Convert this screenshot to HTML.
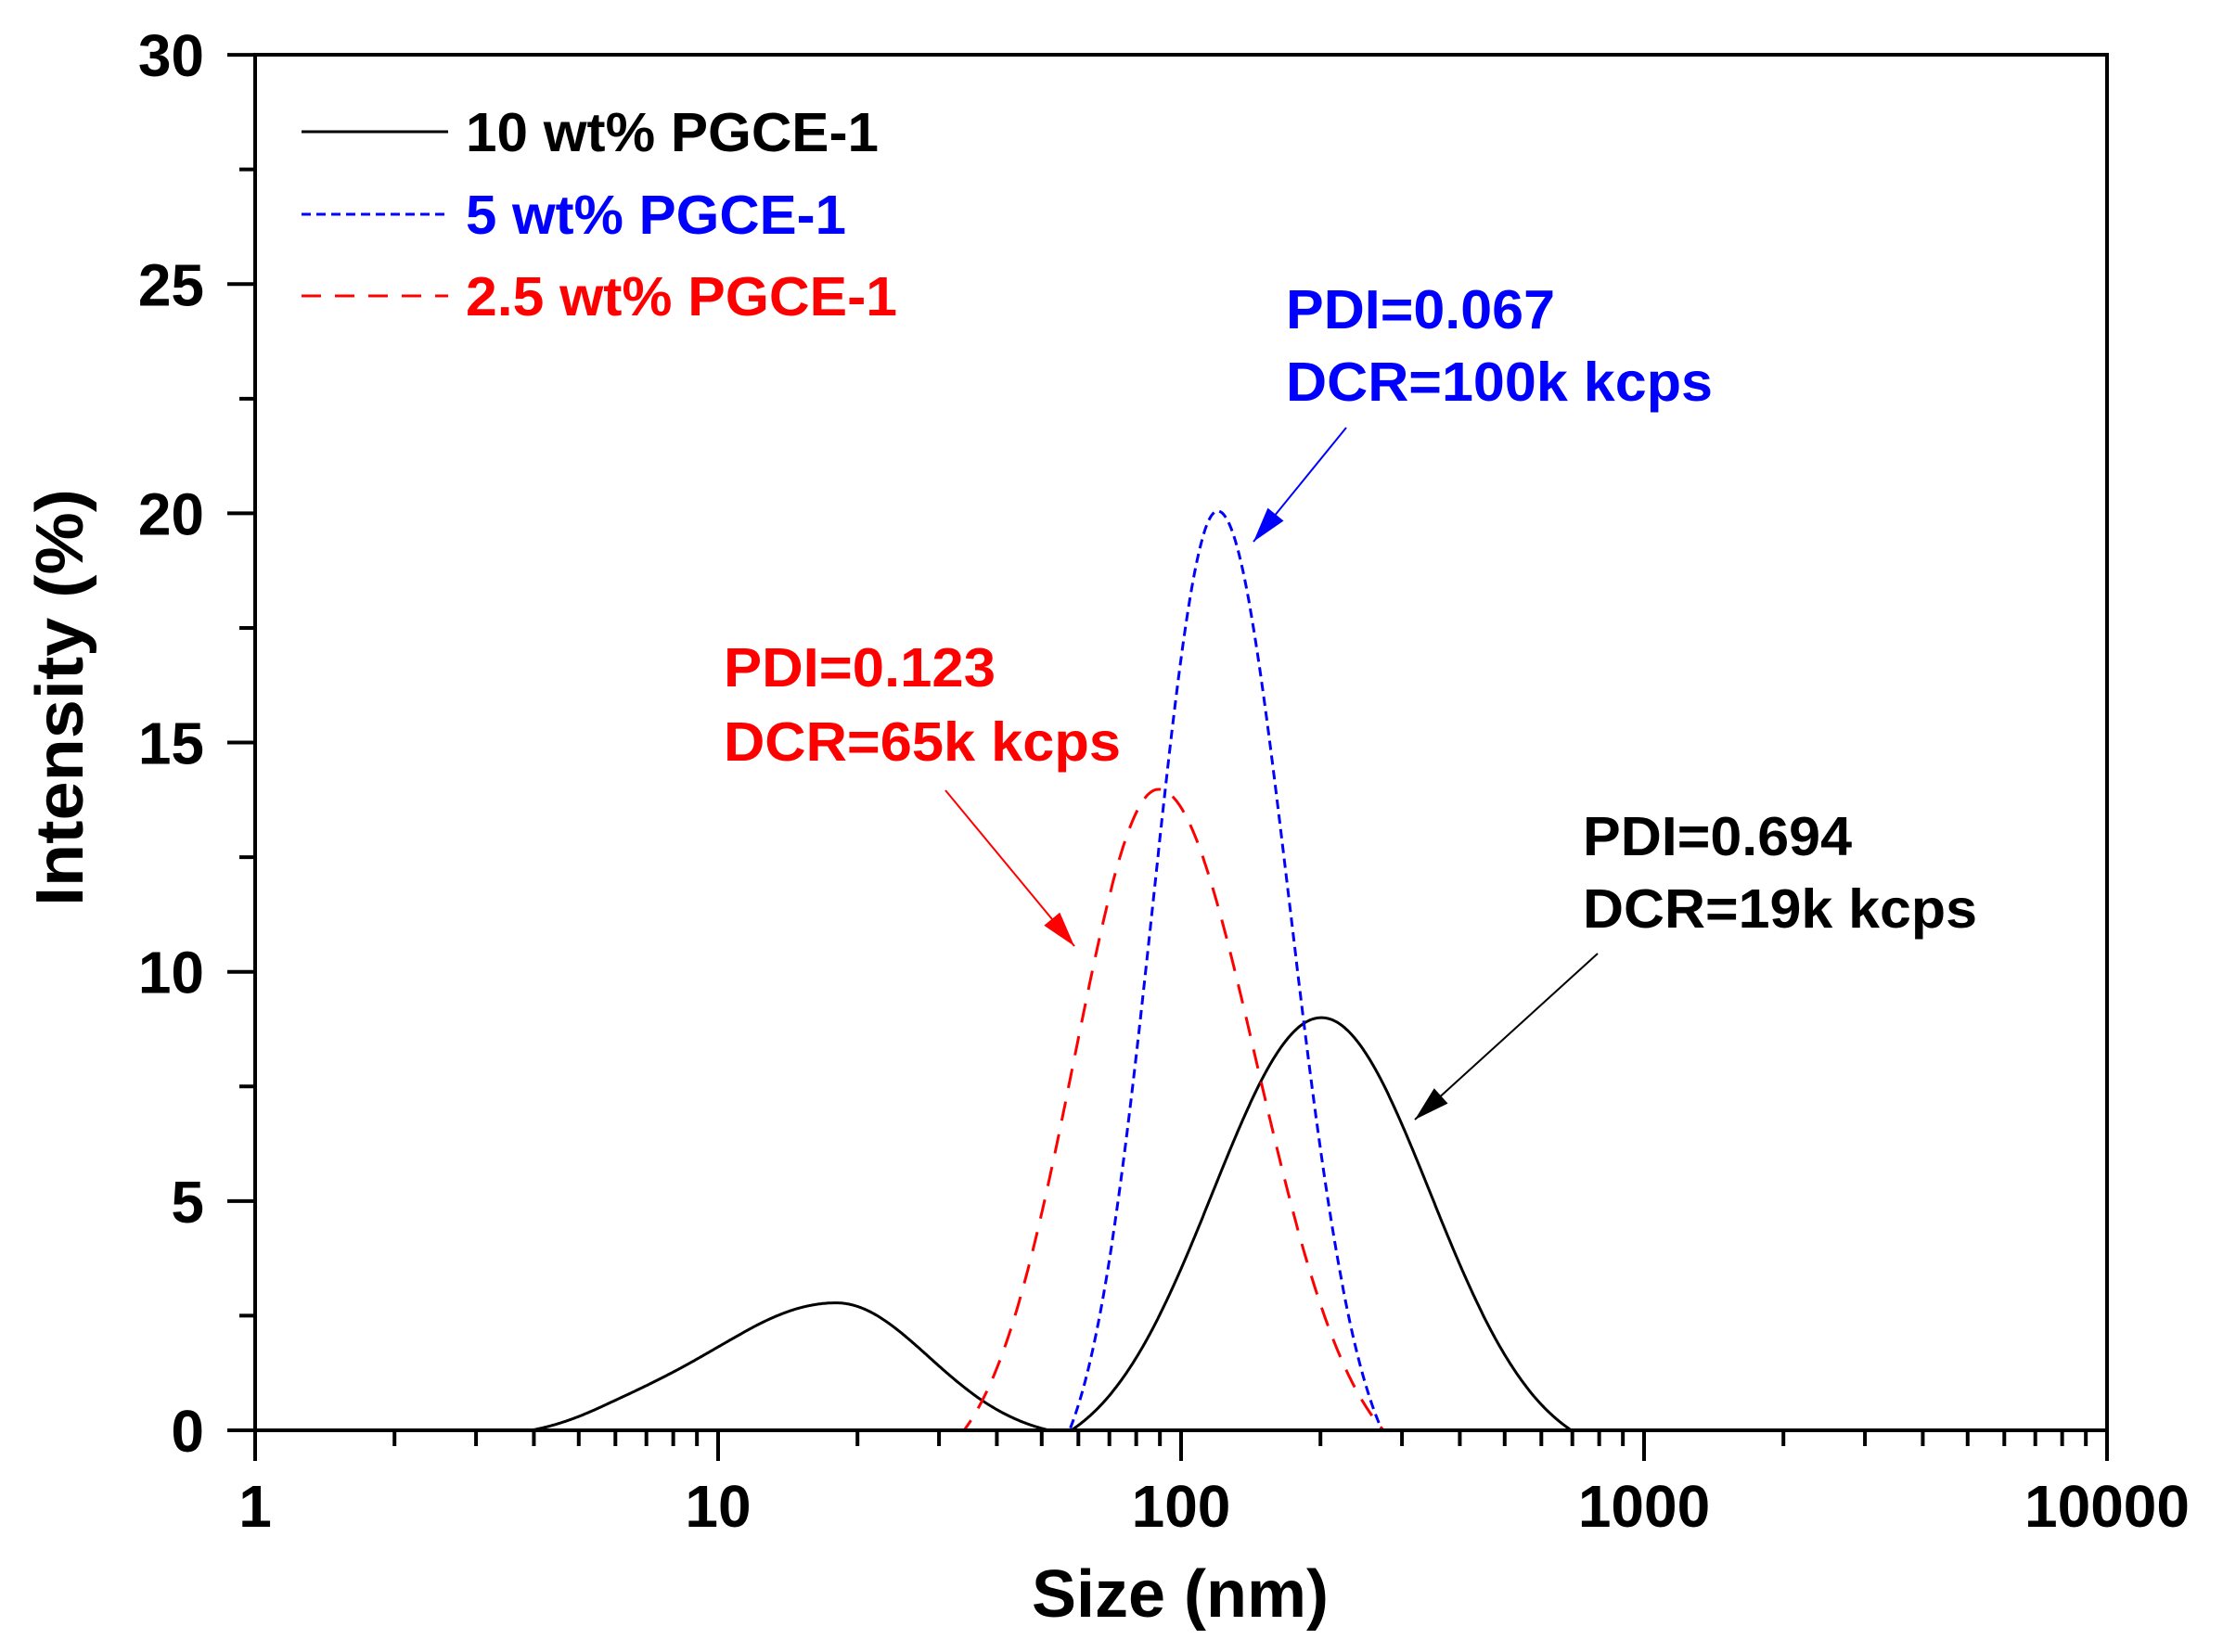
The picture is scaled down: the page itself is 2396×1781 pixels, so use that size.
<!DOCTYPE html>
<html><head><meta charset="utf-8"><style>
html,body{margin:0;padding:0;background:#fff;}
svg{display:block;}
text{font-family:"Liberation Sans",Arial,sans-serif;font-weight:bold;}
</style></head><body>
<svg id="s" width="2396" height="1781" viewBox="0 0 2396 1781" xmlns="http://www.w3.org/2000/svg">
<rect width="2396" height="1781" fill="#fff"/>
<g id="ticks" stroke="#000" stroke-width="4"></g>
<g id="curves" fill="none" stroke-width="3"></g>
<rect x="275" y="59" width="1996" height="1483" fill="none" stroke="#000" stroke-width="4"/>
<g font-size="64" text-anchor="end" id="ylab"></g>
<g font-size="64" text-anchor="middle" id="xlab"></g>
<text x="1272" y="1743" font-size="72" text-anchor="middle">Size (nm)</text>
<text transform="translate(89,752) rotate(-90)" font-size="72" text-anchor="middle" textLength="450" lengthAdjust="spacingAndGlyphs">Intensity (%)</text>
<line x1="325" y1="142" x2="483" y2="142" stroke="#000" stroke-width="3"/>
<line x1="325" y1="231" x2="483" y2="231" stroke="#00f" stroke-width="3" stroke-dasharray="10 6"/>
<line x1="325" y1="319" x2="483" y2="319" stroke="#f00" stroke-width="3" stroke-dasharray="21 15"/>
<text x="502" y="163" font-size="59" textLength="445" lengthAdjust="spacingAndGlyphs">10 wt% PGCE-1</text>
<text x="502" y="252" font-size="59" fill="#00f" textLength="410" lengthAdjust="spacingAndGlyphs">5 wt% PGCE-1</text>
<text x="502" y="340" font-size="59" fill="#f00" textLength="465" lengthAdjust="spacingAndGlyphs">2.5 wt% PGCE-1</text>
<text x="1386" y="354" font-size="59" fill="#00f" textLength="290" lengthAdjust="spacingAndGlyphs">PDI=0.067</text>
<text x="1386" y="432" font-size="59" fill="#00f" textLength="460" lengthAdjust="spacingAndGlyphs">DCR=100k kcps</text>
<text x="780" y="740" font-size="59" fill="#f00" textLength="293" lengthAdjust="spacingAndGlyphs">PDI=0.123</text>
<text x="780" y="820" font-size="59" fill="#f00" textLength="428" lengthAdjust="spacingAndGlyphs">DCR=65k kcps</text>
<text x="1706" y="922" font-size="59" textLength="290" lengthAdjust="spacingAndGlyphs">PDI=0.694</text>
<text x="1706" y="1000" font-size="59" textLength="425" lengthAdjust="spacingAndGlyphs">DCR=19k kcps</text>
<g id="arrows"></g>
</svg>
<script>
var NS="http://www.w3.org/2000/svg";
function el(p,t,a){var e=document.createElementNS(NS,t);for(var k in a)e.setAttribute(k,a[k]);document.getElementById(p).appendChild(e);return e;}
function X(v){return 275+Math.log10(v)*499;}
function Y(v){return 1542-v*49.43;}
for(var i=0;i<=12;i++){var v=i*2.5,y=Y(v),maj=i%2==0;el('ticks','line',{x1:maj?245:258,y1:y,x2:275,y2:y});
 if(maj){var t=el('ylab','text',{x:220,y:y+23});t.textContent=v;}}
for(var d=0;d<4;d++){for(var m=1;m<10;m++){var v=Math.pow(10,d)*m,x=X(v);el('ticks','line',{x1:x,y1:1542,x2:x,y2:m==1?1575:1559});}}
for(var d=0;d<=4;d++){var x=X(Math.pow(10,d));if(d==4)el('ticks','line',{x1:x,y1:1542,x2:x,y2:1575});var t=el('xlab','text',{x:x,y:1646});t.textContent=Math.pow(10,d);}
function bump(L,c,lh,rh,H){var d=L-c,h=d<0?lh:rh;if(Math.abs(d)>=h)return 0;var s=h/2.3,e0=Math.exp(-2.3*2.3/2);return H*(Math.exp(-d*d/(2*s*s))-e0)/(1-e0);}
function path(f,col,dash){var pts=[];for(var L=0;L<=4.0001;L+=0.002){var v=f(L);pts.push((275+L*499).toFixed(1)+","+Y(v).toFixed(1));}
 var a={d:"M"+pts.join("L"),stroke:col};if(dash)a["stroke-dasharray"]=dash;el('curves','path',a);}
path(function(L){return bump(L,1.255,0.66,0.46,2.78)+bump(L,0.8,0.2,0.25,0.12)+bump(L,2.303,0.54,0.54,9.0);},"#000");
path(function(L){return bump(L,2.079,0.32,0.355,20.05);},"#00f","10 6");
path(function(L){return bump(L,1.951,0.42,0.486,13.98);},"#f00","21 15");
function arrow(x1,y1,x2,y2,col){el('arrows','line',{x1:x1,y1:y1,x2:x2,y2:y2,stroke:col,"stroke-width":2});
 var dx=x2-x1,dy=y2-y1,l=Math.hypot(dx,dy),ux=dx/l,uy=dy/l,bx=x2-ux*38,by=y2-uy*38,px=-uy*11,py=ux*11;
 el('arrows','polygon',{points:x2+","+y2+" "+(bx+px)+","+(by+py)+" "+(bx-px)+","+(by-py),fill:col});}
arrow(1451,461,1351,584,"#00f");
arrow(1019,852,1158,1020,"#f00");
arrow(1722,1028,1525,1207,"#000");
</script>
</body></html>
